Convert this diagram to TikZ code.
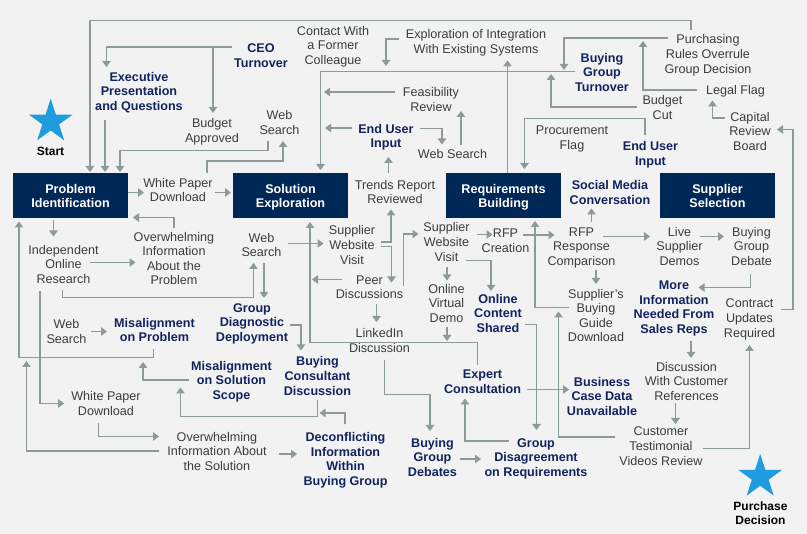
\documentclass[tikz,border=0pt]{standalone}
\usepackage{fontspec}
\setmainfont{Liberation Sans}
\usetikzlibrary{arrows.meta,calc,shapes.geometric}
\definecolor{bgc}{HTML}{F2F2F2}
\definecolor{navy}{HTML}{002856}
\definecolor{boldc}{HTML}{12235F}
\definecolor{txtc}{HTML}{3A3D40}
\definecolor{linec}{HTML}{8C9A9A}
\definecolor{starc}{HTML}{1F9CDD}
\tikzset{
  struts/.style={execute at begin node={\rule[-3pt]{0pt}{16pt}}},
  ln2/.style={execute at begin node={\rule{0pt}{27.6pt}}},
  ln3/.style={execute at begin node={\rule{0pt}{42.2pt}}},
  ln4/.style={execute at begin node={\rule{0pt}{56.8pt}}},
  lbl/.style={struts,align=center,inner sep=0pt,text=txtc,font=\fontsize{12.6}{14.6}\selectfont},
  key/.style={struts,align=center,inner sep=0pt,text=boldc,font=\fontsize{12.6}{14.6}\selectfont\bfseries},
  mark label/.style={struts,align=center,inner sep=0pt,text=black,font=\fontsize{12}{14.6}\selectfont\bfseries},
  stage/.style={struts,ln2,align=center,inner sep=0pt,fill=navy,text=white,minimum width=115.5pt,minimum height=45pt,font=\fontsize{12.6}{14.6}\selectfont\bfseries},
  bigstar/.style={star,star points=5,star point ratio=2.618,fill=starc,inner sep=0pt,minimum size=46pt},
  arr/.style={draw=linec,line width=1.2pt,-{Triangle[width=8.5pt,length=6pt]}},
}
\begin{document}
\begin{tikzpicture}[x=1pt,y=-1pt]
\fill[bgc] (0,0) rectangle (807,534);
\useasboundingbox (0,0) rectangle (807,534);
% stars
\node[bigstar] (sa) at (50.7,121.7) {};
\node[mark label] (start) at (50.5,151) {Start};
\node[bigstar] (sb) at (760.2,477) {};
\node[mark label,ln2] (purchase) at (760.5,512.5) {Purchase\\Decision};
% stages
\node[stage] (P) at (70.5,195.5) {Problem\\Identification};
\node[stage] (S) at (290.5,195.5) {Solution\\Exploration};
\node[stage] (R) at (503.5,195.5) {Requirements\\Building};
\node[stage] (U) at (717.5,195.5) {Supplier\\Selection};
% text nodes
\node[key,ln2] (ceo) at (261,55) {CEO\\Turnover};
\node[key,ln3] (exec) at (139,91) {Executive\\Presentation\\and Questions};
\node[lbl,ln2] (budA) at (212,130) {Budget\\Approved};
\node[lbl,ln2] (ws1) at (279.5,122) {Web\\Search};
\node[lbl,ln3] (contact) at (333,45) {Contact With\\a Former\\Colleague};
\node[lbl,ln2] (explo) at (476,41) {Exploration of Integration\\With Existing Systems};
\node[lbl,ln2] (feas) at (431,99) {Feasibility\\Review};
\node[key,ln2] (eu1) at (386,135.5) {End User\\Input};
\node[lbl] (ws2) at (452.5,154) {Web Search};
\node[lbl,ln2] (trends) at (395,191.5) {Trends Report\\Reviewed};
\node[key,ln3] (bgt) at (602,72) {Buying\\Group\\Turnover};
\node[lbl,ln3] (purch) at (708,53.5) {Purchasing\\Rules Overrule\\Group Decision};
\node[lbl] (legal) at (735.5,90) {Legal Flag};
\node[lbl,ln2] (budC) at (662.5,107) {Budget\\Cut};
\node[lbl,ln3] (cap) at (750,131) {Capital\\Review\\Board};
\node[lbl,ln2] (proc) at (572,137) {Procurement\\Flag};
\node[key,ln2] (eu2) at (650.5,153) {End User\\Input};
\node[lbl,ln2] (wp1) at (178,189.5) {White Paper\\Download};
\node[lbl,ln4] (owp) at (174,258) {Overwhelming\\Information\\About the\\Problem};
\node[lbl,ln3] (ind) at (63.5,264) {Independent\\Online\\Research};
\node[lbl,ln2] (ws3) at (261.5,244.5) {Web\\Search};
\node[lbl,ln3] (sw1) at (352,244.5) {Supplier\\Website\\Visit};
\node[lbl,ln2] (peer) at (369.5,286.5) {Peer\\Discussions};
\node[lbl,ln2] (li) at (379.5,340) {LinkedIn\\Discussion};
\node[lbl,ln3] (sw2) at (446.5,241.5) {Supplier\\Website\\Visit};
\node[lbl,ln2] (rfpc) at (505.5,240) {RFP\\Creation};
\node[lbl,ln3] (ovd) at (446.5,303) {Online\\Virtual\\Demo};
\node[key,ln3] (ocs) at (498,313) {Online\\Content\\Shared};
\node[key,ln2] (smc) at (610,192) {Social Media\\Conversation};
\node[lbl,ln3] (rfpr) at (581.5,246) {RFP\\Response\\Comparison};
\node[lbl,ln3] (live) at (679.5,246) {Live\\Supplier\\Demos};
\node[lbl,ln3] (bgdb) at (751.5,246) {Buying\\Group\\Debate};
\node[lbl,ln4] (guide) at (596,315) {Supplier's\\Buying\\Guide\\Download};
\node[key,ln4] (more) at (674,306.5) {More\\Information\\Needed From\\Sales Reps};
\node[lbl,ln3] (contr) at (749.5,317.5) {Contract\\Updates\\Required};
\node[lbl,ln3] (disc) at (686.5,381) {Discussion\\With Customer\\References};
\node[lbl,ln3] (cust) at (661,445.5) {Customer\\Testimonial\\Videos Review};
\node[key,ln3] (bcd) at (602,396) {Business\\Case Data\\Unavailable};
\node[key,ln3] (gdr) at (536,457) {Group\\Disagreement\\on Requirements};
\node[key,ln2] (exp) at (482.5,381) {Expert\\Consultation};
\node[key,ln3] (bgd) at (432.5,457) {Buying\\Group\\Debates};
\node[key,ln4] (decon) at (345.5,458.5) {Deconflicting\\Information\\Within\\Buying Group};
\node[lbl,ln3] (ows) at (217,451) {Overwhelming\\Information About\\the Solution};
\node[lbl,ln2] (wp2) at (106,403) {White Paper\\Download};
\node[lbl,ln2] (ws4) at (66.5,331) {Web\\Search};
\node[key,ln2] (map) at (154.5,329.5) {Misalignment\\on Problem};
\node[key,ln3] (gdd) at (252,322) {Group\\Diagnostic\\Deployment};
\node[key,ln3] (mass) at (231.5,380) {Misalignment\\on Solution\\Scope};
\node[key,ln3] (bcdisc) at (317.5,375.5) {Buying\\Consultant\\Discussion};
% free ends of connectors that point at another connector
\coordinate (c1) at (386,66);
\coordinate (c2) at (324,92);
\coordinate (c3) at (325,128);
\coordinate (c4) at (26.5,361);
\coordinate (c5) at (312,279.5);
\coordinate (c6) at (447,341);
% connectors
\draw[arr] ($(purch)+(-17,-23.5)$) -- (691,20.5) -- (90,20.5) -- ($(P)+(19.5,-23.5)$);
\draw[arr] ($(exec)+(-34,29.5)$) -- ($(P)+(34.5,-23.5)$);
\draw[arr] ($(ws1)+(-11.5,19)$) -- (268,150.5) -- (120,150.5) -- ($(P)+(49.5,-23.5)$);
\draw[arr] ($(wp1)+(29,-16.5)$) -- (207,161) -- (283,161) -- ($(ws1)+(3.5,19)$);
\draw[arr] ($(ceo)+(-29,-8)$) -- (106.5,47) -- ($(exec)+(-32.5,-24)$);
\draw[arr] ($(ceo)+(-29,-8)$) -- (213,47) -- ($(budA)+(1,-17)$);
\draw[arr] ($(explo)+(-77,-2)$) -- (386,39) -- (c1);
\draw[arr] ($(bgt)+(-27,-0.5)$) -- (320.5,71.5) -- ($(S)+(30,-25.5)$);
\draw[arr] ($(feas)+(-36,-7)$) -- (c2);
\draw[arr] ($(eu1)+(-34,-7.5)$) -- (c3);
\draw[arr] ($(eu1)+(34,-7)$) -- (442,128.5) -- ($(ws2)+(-10.5,-9.5)$);
\draw[arr] ($(ws2)+(8.5,-9)$) -- ($(feas)+(30,12)$);
\draw[arr] ($(trends)+(-6.5,-18.5)$) -- ($(eu1)+(2.5,21.5)$);
\draw[arr] ($(R)+(4,-22.5)$) -- ($(explo)+(31.5,19.5)$);
\draw[arr] ($(eu2)+(-5.5,-18)$) -- (645,118.5) -- (524.5,118.5) -- ($(R)+(21,-26.5)$);
\draw[arr] ($(purch)+(-40.5,-15.5)$) -- (564,38) -- ($(bgt)+(-38,-2)$);
\draw[arr] ($(legal)+(-38.5,0)$) -- (643,90) -- ($(purch)+(-65,-12.5)$);
\draw[arr] ($(budC)+(-25.5,0)$) -- (551,107) -- ($(bgt)+(-51,2)$);
\draw[arr] ($(cap)+(-25,-13)$) -- (712.5,118) -- ($(legal)+(-23,10.5)$);
\draw[arr] ($(contr)+(31.5,-8)$) -- (793,309.5) -- (793,129.5) -- ($(cap)+(27,-1.5)$);
\draw[arr] ($(P)+(57.5,-3)$) -- ($(wp1)+(-34,3)$);
\draw[arr] ($(wp1)+(37,3)$) -- ($(S)+(-59.5,-3)$);
\draw[arr] ($(owp)+(0,-30)$) -- (174,217.5) -- ($(P)+(62.5,22)$);
\draw[arr] ($(P)+(-17,25)$) -- ($(ind)+(-10,-27.5)$);
\draw[arr] ($(ind)+(26.5,-1.5)$) -- ($(owp)+(-38.5,4.5)$);
\draw[arr] ($(ind)+(-1,26.5)$) -- (62.5,297.5) -- (253.5,297.5) -- ($(ws3)+(-8,18.5)$);
\draw[arr] ($(ws3)+(2.5,18.5)$) -- ($(gdd)+(12,-24)$);
\draw[arr] ($(ind)+(-23.5,27)$) -- (40,403.5) -- ($(wp2)+(-42,0.5)$);
\draw[arr] ($(ws4)+(24.5,0.5)$) -- ($(map)+(-47.5,2)$);
\draw[arr] ($(map)+(-1,19.5)$) -- (153.5,357.5) -- (19,357.5) -- ($(P)+(-51.5,26)$);
\draw[arr] ($(mass)+(-42.5,0)$) -- (143,380) -- ($(map)+(-11.5,32.5)$);
\draw[arr] ($(bcdisc)+(0,25)$) -- (317.5,416.5) -- (180.5,416.5) -- ($(mass)+(-51,7.5)$);
\draw[arr] ($(gdd)+(38,3)$) -- (301,325) -- ($(bcdisc)+(-16.5,-25)$);
\draw[arr] ($(decon)+(-0.5,-34)$) -- (345,413) -- ($(bcdisc)+(2,37.5)$);
\draw[arr] ($(ows)+(61.5,3)$) -- ($(decon)+(-48.5,-4.5)$);
\draw[arr] ($(wp2)+(-7.5,20)$) -- (98.5,436.5) -- ($(ows)+(-58,-14.5)$);
\draw[arr] ($(ows)+(-58.5,0)$) -- (26.5,451) -- (c4);
\draw[arr] ($(exp)+(-5,-16)$) -- (477.5,342.5) -- (310,342.5) -- ($(S)+(19.5,26.5)$);
\draw[arr] ($(ws3)+(26.5,-1)$) -- ($(sw1)+(-28.5,-1)$);
\draw[arr] ($(sw1)+(28.5,-2.5)$) -- (391,242) -- ($(trends)+(-4,18)$);
\draw[arr] ($(sw1)+(28.5,2)$) -- (391.5,246.5) -- ($(peer)+(22,-4)$);
\draw[arr] ($(peer)+(-27.5,-7)$) -- (c5);
\draw[arr] ($(peer)+(34,0)$) -- (403.5,234) -- ($(sw2)+(-28,-7.5)$);
\draw[arr] ($(peer)+(7,17.5)$) -- ($(li)+(-3,-18)$);
\draw[arr] ($(li)+(5,20)$) -- (384.5,394.5) -- (430,394.5) -- ($(bgd)+(-2.5,-26)$);
\draw[arr] ($(sw2)+(30,-7)$) -- ($(rfpc)+(-13,-5.5)$);
\draw[arr] ($(sw2)+(0.5,25.5)$) -- ($(ovd)+(0.5,-22.5)$);
\draw[arr] ($(sw2)+(19,19)$) -- (491,260.5) -- ($(ocs)+(-7,-22)$);
\draw[arr] ($(ovd)+(0.5,24)$) -- (c6);
\draw[arr] ($(rfpc)+(17.5,-5)$) -- ($(rfpr)+(-27,-11)$);
\draw[arr] ($(rfpr)+(10,-24)$) -- ($(smc)+(-18.5,16.5)$);
\draw[arr] ($(rfpr)+(21.5,-9.5)$) -- ($(live)+(-29.5,-9.5)$);
\draw[arr] ($(live)+(20,-9.5)$) -- ($(bgdb)+(-27.5,-9.5)$);
\draw[arr] ($(rfpr)+(14.5,24)$) -- ($(guide)+(0,-31)$);
\draw[arr] ($(guide)+(-27,-7.5)$) -- (535,307.5) -- ($(R)+(31.5,25.5)$);
\draw[arr] ($(bgdb)+(-1,28)$) -- (750.5,287.5) -- ($(more)+(24.5,-19)$);
\draw[arr] ($(more)+(17,34.5)$) -- ($(disc)+(4.5,-23)$);
\draw[arr] ($(disc)+(-11,22.5)$) -- ($(cust)+(14.5,-21.5)$);
\draw[arr] ($(cust)+(42,3)$) -- (749.5,448.5) -- ($(contr)+(0,27.5)$);
\draw[arr] ($(cust)+(-46.5,-8.5)$) -- (558.5,437) -- ($(guide)+(-37.5,-3.5)$);
\draw[arr] ($(exp)+(44.5,8.5)$) -- ($(bcd)+(-33,-6.5)$);
\draw[arr] ($(gdr)+(-27.5,-16)$) -- (465,441) -- ($(exp)+(-17.5,17.5)$);
\draw[arr] ($(ocs)+(26.5,11.5)$) -- (536.5,324.5) -- ($(gdr)+(0.5,-27)$);
\draw[arr] ($(bgd)+(27,2)$) -- ($(gdr)+(-55,2)$);
\end{tikzpicture}
\end{document}
